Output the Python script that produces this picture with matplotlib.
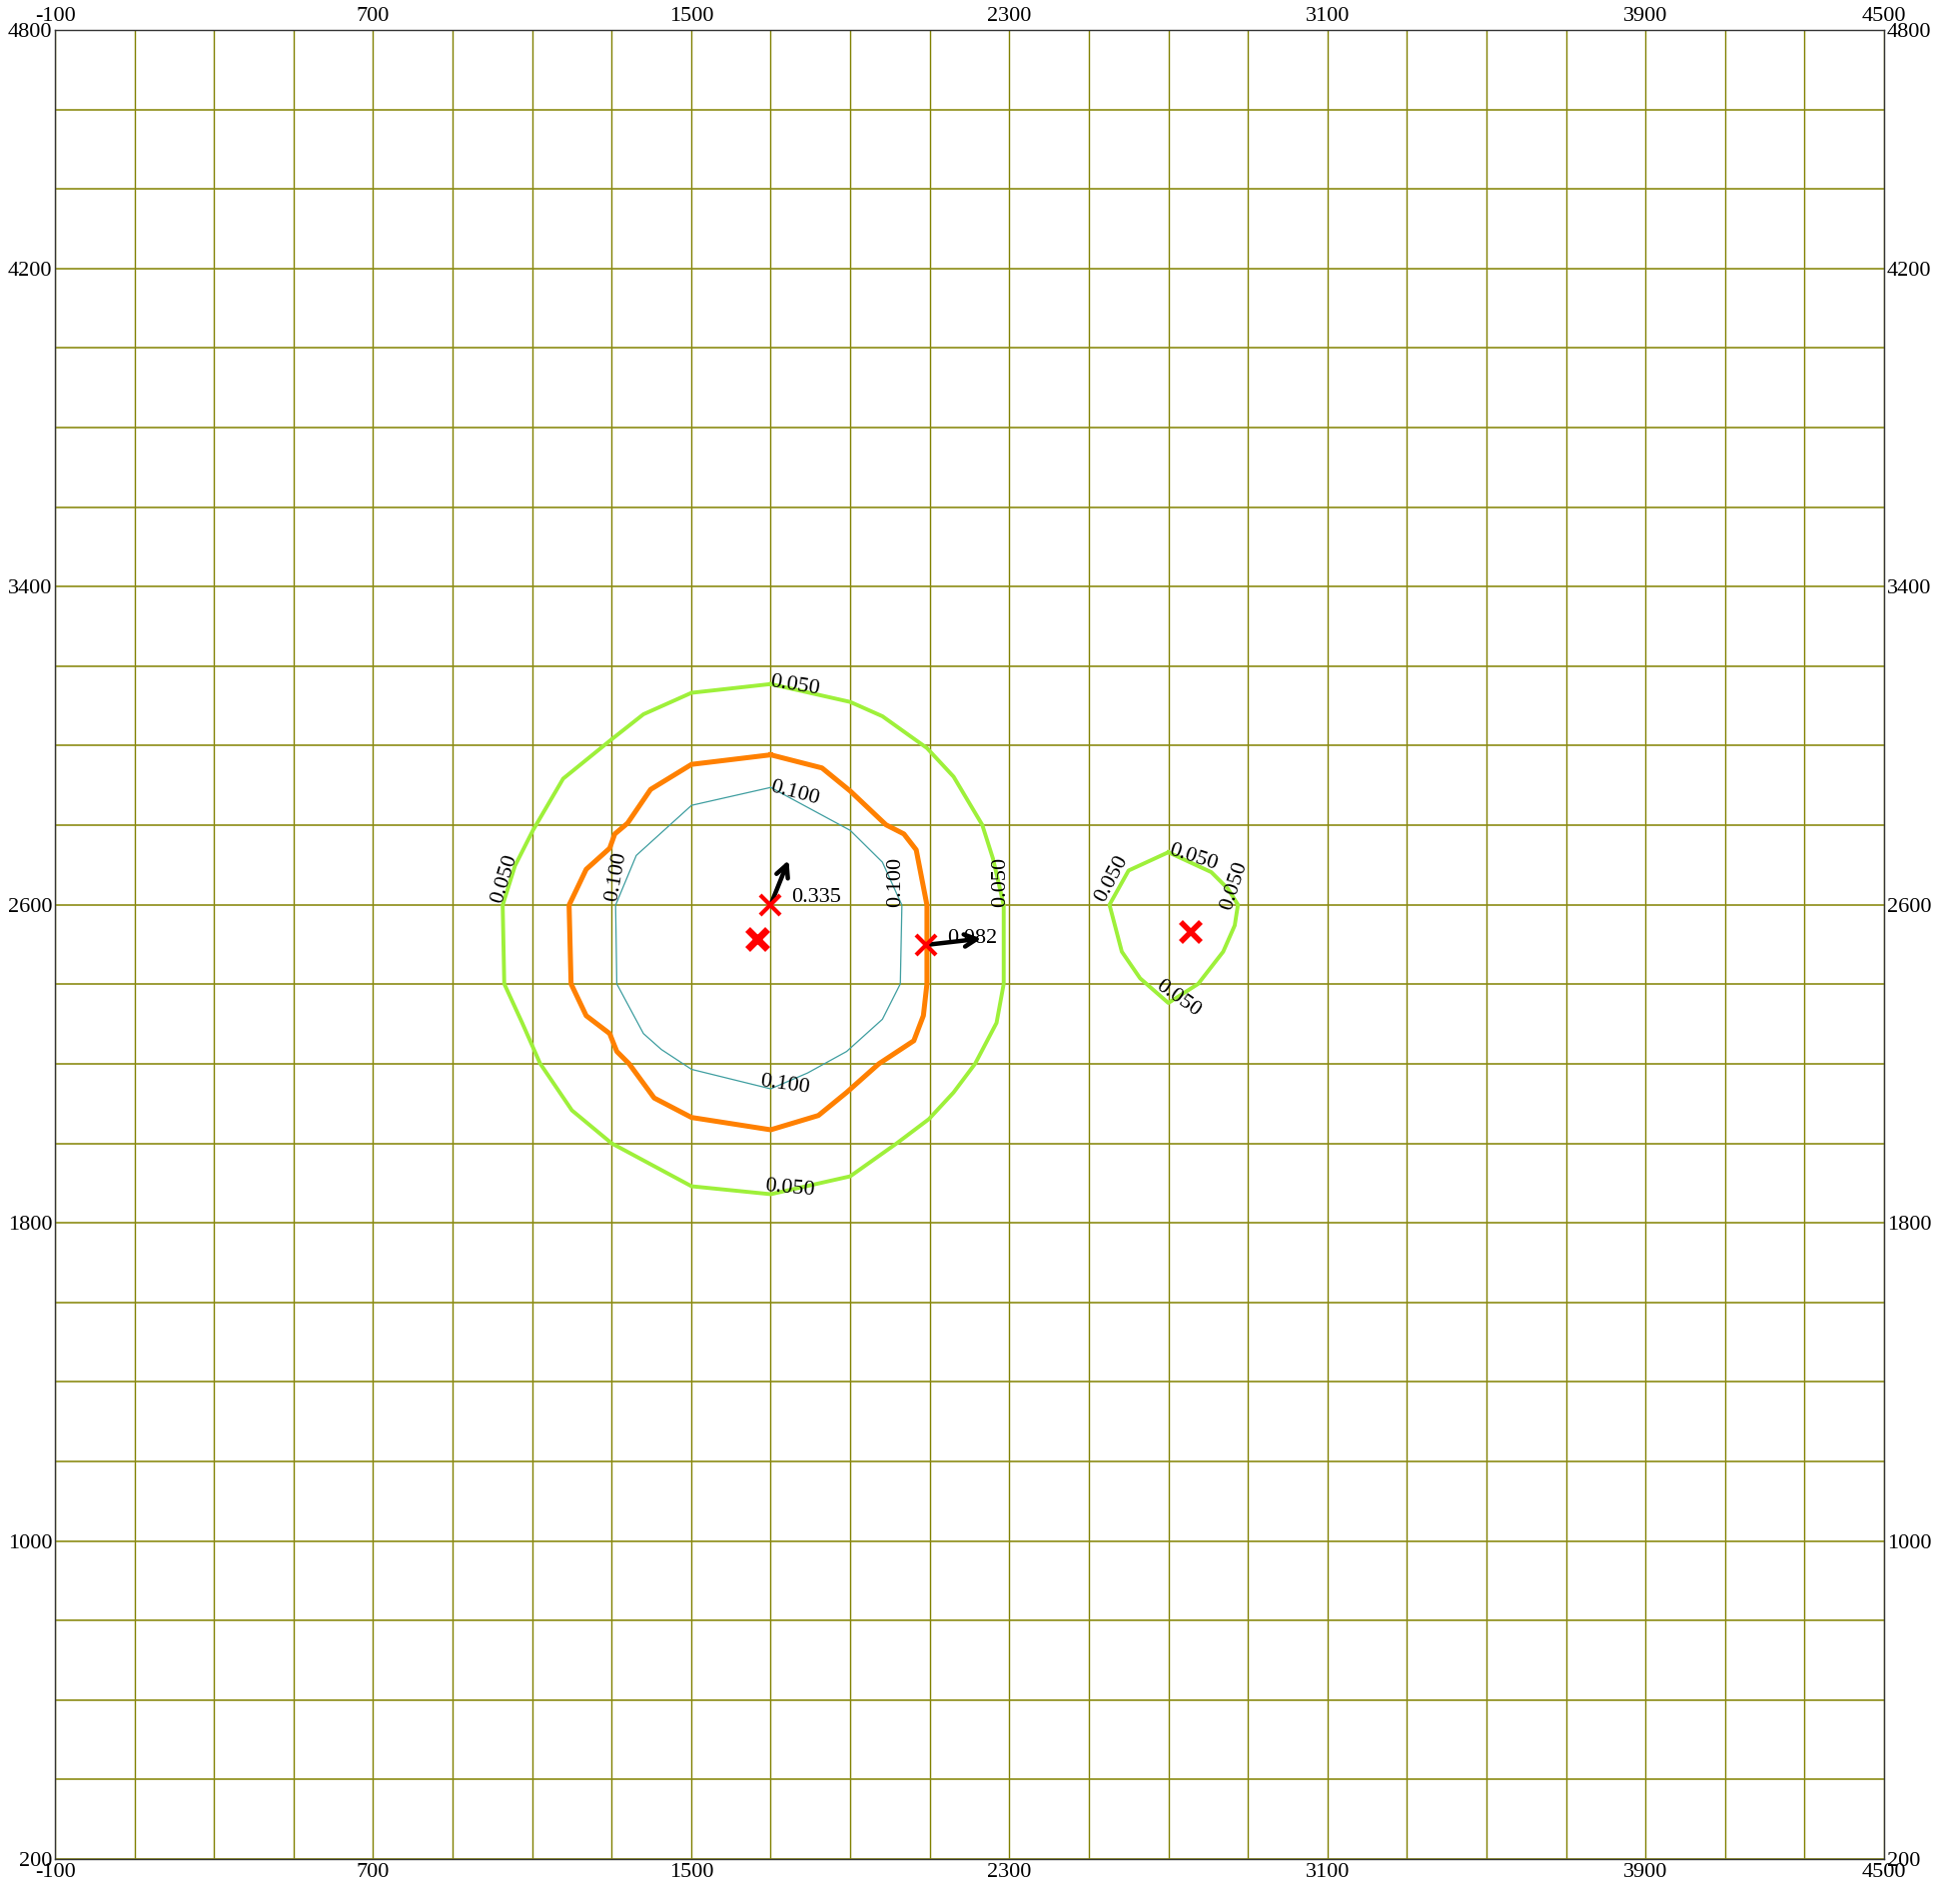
import numpy as np
import matplotlib
matplotlib.use("Agg")
import matplotlib.pyplot as plt

plt.rcParams['font.family'] = ['Liberation Serif', 'DejaVu Serif']

# ---- data ----
x_ticks = [-100, 700, 1500, 2300, 3100, 3900, 4500]
y_ticks = [200, 1000, 1800, 2600, 3400, 4200, 4800]
grid_x = list(range(-100, 4501, 200))
grid_y = list(range(200, 4801, 200))

c050_big_x = [1700, 1900, 1981, 2093, 2160, 2232, 2259, 2286, 2286, 2268, 2214, 2160, 2098, 2017, 1900,
              1700, 1501, 1300, 1200, 1120, 1075, 1030, 1026, 1057, 1102, 1178, 1300, 1380, 1501, 1700]
c050_big_y = [3155, 3110, 3074, 2994, 2922, 2801, 2716, 2599, 2401, 2303, 2200, 2128, 2061, 2000, 1917,
              1872, 1892, 2000, 2083, 2201, 2303, 2401, 2599, 2698, 2787, 2917, 3016, 3079, 3133, 3155]

c_orange_x = [1700, 1829, 1900, 1990, 2035, 2066, 2093, 2093, 2084, 2060, 1972, 1891, 1820, 1700,
              1501, 1407, 1344, 1313, 1295, 1236, 1198, 1193, 1236, 1295, 1308, 1340, 1398, 1501, 1700]
c_orange_y = [2977, 2944, 2886, 2801, 2778, 2738, 2599, 2401, 2321, 2258, 2200, 2128, 2070, 2034,
              2065, 2114, 2200, 2231, 2276, 2321, 2401, 2599, 2689, 2742, 2778, 2805, 2890, 2953, 2977]

c100_x = [1700, 1900, 1981, 2030, 2026, 1981, 1891, 1793, 1700, 1501, 1425, 1380, 1313, 1310, 1362, 1501, 1700]
c100_y = [2895, 2787, 2707, 2599, 2401, 2312, 2231, 2177, 2137, 2186, 2236, 2276, 2401, 2599, 2724, 2850, 2895]

c050_small_x = [2700, 2808, 2850, 2875, 2867, 2838, 2775, 2700, 2629, 2583, 2552, 2600, 2700]
c050_small_y = [2732, 2682, 2640, 2600, 2548, 2482, 2401, 2353, 2415, 2482, 2600, 2686, 2732]

# contour labels: x, y, text, rotation
label_x = [1761, 1030, 2277, 1748, 1761, 1313, 2015, 1736, 2762, 2558, 2867, 2725]
label_y = [3151, 2666, 2657, 1886, 2881, 2671, 2657, 2146, 2719, 2665, 2648, 2365]
label_txt = ['0.050', '0.050', '0.050', '0.050', '0.100', '0.100', '0.100', '0.100',
             '0.050', '0.050', '0.050', '0.050']
label_rot = [-9, 73, 90, -5, -15, 80, 90, -8, -18, 62, 72, -35]

# receptor points (x markers)
pts_x = [1700, 1667, 2090, 2757]
pts_y = [2600, 2514, 2500, 2532]
pts_size = [14, 15, 14, 14]
pts_mew = [3, 5, 3, 4]

# arrows: start, end
arr_x0 = [1700, 2100]
arr_y0 = [2600, 2500]
arr_x1 = [1745, 2230]
arr_y1 = [2712, 2515]
arr_lab = ['0.335', '0.082']
arr_lab_x = [1752, 2143]
arr_lab_y = [2617, 2514]

# ---- figure ----
fig = plt.figure(figsize=(19.62, 18.88), dpi=100)
ax = fig.add_axes([55 / 1962, 27 / 1888, 1831 / 1962, 1831 / 1888])
ax.set_xlim(-100, 4500)
ax.set_ylim(200, 4800)

for gx in grid_x:
    ax.axvline(gx, color='#808000', lw=1.0, zorder=0)
for gy in grid_y:
    ax.axhline(gy, color='#8c8c14', lw=1.4, alpha=0.85, zorder=0)

ax.plot(c050_big_x, c050_big_y, color='#9ef03a', lw=2.8, zorder=3)
ax.plot(c_orange_x, c_orange_y, color='#ff8000', lw=3.6, zorder=3)
ax.plot(c100_x, c100_y, color='#3f9ea0', lw=0.9, zorder=3)
ax.plot(c050_small_x, c050_small_y, color='#9ef03a', lw=2.8, zorder=3)

for x, y, t, r in zip(label_x, label_y, label_txt, label_rot):
    ax.text(x, y, t, rotation=r, ha='center', va='center', fontsize=16,
            rotation_mode='anchor', zorder=5)

for x0, y0, x1, y1 in zip(arr_x0, arr_y0, arr_x1, arr_y1):
    ax.annotate('', xy=(x1, y1), xytext=(x0, y0),
                arrowprops=dict(arrowstyle='->', lw=3.2, color='black',
                                mutation_scale=22, shrinkA=0, shrinkB=0), zorder=6)
for x, y, t in zip(arr_lab_x, arr_lab_y, arr_lab):
    ax.text(x, y, t, ha='left', va='center', fontsize=16, zorder=7)

for x, y, s, m in zip(pts_x, pts_y, pts_size, pts_mew):
    ax.plot([x], [y], marker='x', color='red', markersize=s, mew=m, ls='none', zorder=8)

ax.set_xticks(x_ticks)
ax.set_yticks(y_ticks)
ax.set_xticklabels([str(v) for v in x_ticks])
ax.set_yticklabels([str(v) for v in y_ticks])
ax.tick_params(axis='both', length=0, labelsize=16, top=True, right=True,
               labeltop=True, labelright=True)
ax.tick_params(axis='x', pad=3)
ax.tick_params(axis='y', pad=2)
for sp in ax.spines.values():
    sp.set_color('#333333')
    sp.set_linewidth(1.0)

fig.savefig('out.png', dpi=100)
